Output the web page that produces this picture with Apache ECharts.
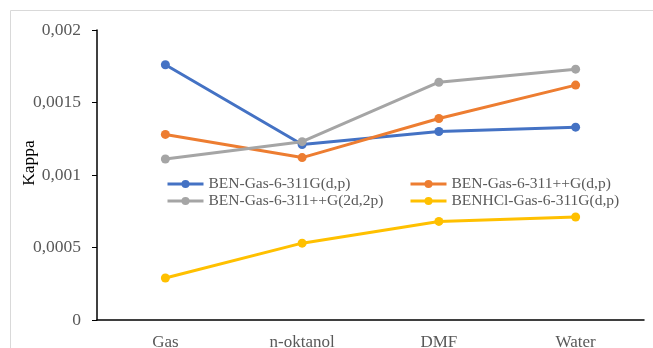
<!DOCTYPE html>
<html><head><meta charset="utf-8">
<script src="https://cdn.jsdelivr.net/npm/echarts@6/dist/echarts.min.js"></script>
<style>html,body{margin:0;padding:0;background:#fff}#c{width:653px;height:348px}</style>
</head><body><div id="c"></div>
<script>
var categories = ['Gas', 'n-oktanol', 'DMF', 'Water'];
var seriesNames = ['BEN-Gas-6-311G(d,p)', 'BEN-Gas-6-311++G(d,p)', 'BEN-Gas-6-311++G(2d,2p)', 'BENHCl-Gas-6-311G(d,p)'];
var blueValues = [0.00176, 0.00121, 0.00130, 0.00133];
var orangeValues = [0.00128, 0.00112, 0.00139, 0.00162];
var grayValues = [0.00111, 0.00123, 0.00164, 0.00173];
var yellowValues = [0.00029, 0.00053, 0.00068, 0.00071];
var colors = ['#4472C4', '#ED7D31', '#A5A5A5', '#FFC000'];
var font = '"Liberation Serif", "Times New Roman", serif';

function fmt(v) { return v === 0 ? '0' : String(+v.toFixed(4)).replace('.', ','); }

function mk(name, data, color) {
  return {
    name: name, type: 'line', data: data, symbol: 'circle', symbolSize: 9,
    lineStyle: { width: 3, color: color }, itemStyle: { color: color }
  };
}
var legendText = { fontFamily: font, fontSize: 15.5, color: '#595959', lineHeight: 16 };
var legendBase = { orient: 'vertical', top: 176, itemWidth: 36, itemHeight: 10, itemGap: 1, padding: 0,
  textStyle: legendText, lineStyle: { width: 3 } };
var chart = echarts.init(document.getElementById('c'));
chart.setOption({
  animation: false,
  graphic: [{ type: 'rect', shape: { x: 10.5, y: 10.5, width: 700, height: 400 }, style: { fill: 'none', stroke: '#d9d9d9', lineWidth: 1 }, z: -1 }],
  grid: { left: 97, right: 9, top: 30, bottom: 28, outerBoundsMode: 'none', containLabel: false },
  legend: [
    Object.assign({}, legendBase, { left: 166, data: [seriesNames[0], seriesNames[2]] }),
    Object.assign({}, legendBase, { left: 409, data: [seriesNames[1], seriesNames[3]] })
  ],
  xAxis: {
    type: 'category', data: categories, boundaryGap: true,
    axisLine: { lineStyle: { color: '#000', width: 1.5 } },
    axisTick: { alignWithLabel: true, length: 4, lineStyle: { color: '#000' } },
    axisLabel: { fontFamily: font, fontSize: 17, color: '#595959', margin: 14 }
  },
  yAxis: {
    type: 'value', min: 0, max: 0.002, interval: 0.0005,
    name: 'Kappa', nameLocation: 'middle', nameGap: 59, nameMoveOverlap: false,
    nameTextStyle: { fontFamily: font, fontSize: 17.5, color: '#000', padding: [0, 0, 0, 24] },
    axisLine: { show: true, lineStyle: { color: '#000', width: 1.5 } },
    axisTick: { show: true, length: 5, lineStyle: { color: '#000' } },
    splitLine: { show: false },
    axisLabel: { fontFamily: font, fontSize: 17.5, color: '#595959', margin: 16, formatter: fmt }
  },
  series: [
    mk(seriesNames[0], blueValues, colors[0]),
    mk(seriesNames[1], orangeValues, colors[1]),
    mk(seriesNames[2], grayValues, colors[2]),
    mk(seriesNames[3], yellowValues, colors[3])
  ]
});
</script></body></html>
